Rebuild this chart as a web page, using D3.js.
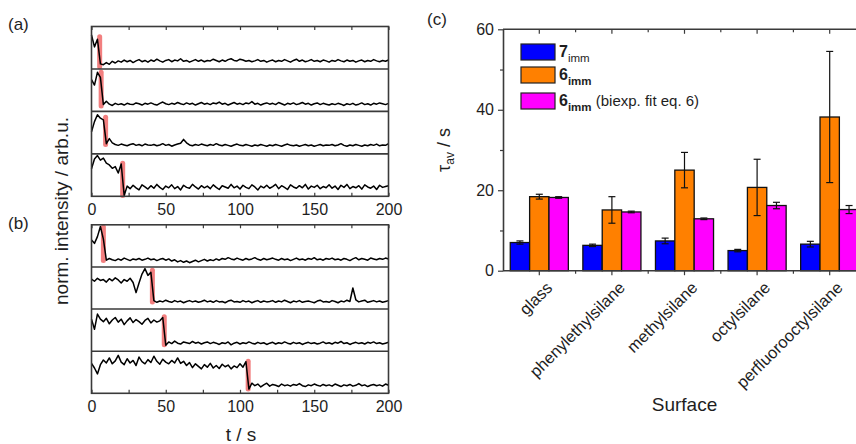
<!DOCTYPE html>
<html>
<head>
<meta charset="utf-8">
<script src="https://cdn.jsdelivr.net/npm/d3@7"></script>
<style>
body { margin: 0; background: #fff; }
svg { display: block; }
text { font-family: "Liberation Sans", Arial, sans-serif; fill: #1e1e1e; }
</style>
</head>
<body>
<svg width="856" height="444"></svg>
<script>
// time axis of the single-molecule traces (s)
var sampleTimes = [0,2,4,6,8,10,12,14,16,18,20,22,24,26,28,30,32,34,36,38,40,42,44,46,48,50,52,54,56,58,60,62,64,66,68,70,72,74,76,78,80,82,84,86,88,90,92,94,96,98,100,102,104,106,108,110,112,114,116,118,120,122,124,126,128,130,132,134,136,138,140,142,144,146,148,150,152,154,156,158,160,162,164,166,168,170,172,174,176,178,180,182,184,186,188,190,192,194,196,198,200];

// (a) normalised intensity traces (0 = strip bottom, 1 = strip top)
var traceA1 = [0.80,0.52,0.70,0.12,
  0.10,0.15,0.11,0.18,0.14,0.19,0.16,0.21,0.17,0.20,0.15,0.19,0.22,0.17,0.20,0.16,
  0.21,0.18,0.23,0.19,0.16,0.20,0.22,0.17,0.21,0.19,0.24,0.18,0.20,0.16,0.19,0.22,0.18,0.21,0.17,0.20,
  0.19,0.23,0.20,0.17,0.21,0.18,0.22,0.24,0.20,0.19,0.23,0.21,0.18,0.20,0.17,0.19,0.22,0.18,0.20,0.16,
  0.19,0.21,0.17,0.20,0.18,0.22,0.19,0.16,0.20,0.23,0.18,0.21,0.17,0.19,0.22,0.18,0.20,0.17,0.21,0.19,
  0.16,0.20,0.18,0.22,0.19,0.17,0.21,0.18,0.20,0.16,0.19,0.21,0.17,0.20,0.18,0.22,0.19,0.17,0.20,0.18,0.21];
var traceA2 = [0.75,0.62,0.92,0.80,
  0.16,0.24,0.17,0.14,0.19,0.16,0.18,0.15,0.19,0.17,0.16,0.20,0.18,0.15,0.19,0.17,
  0.20,0.17,0.15,0.19,0.22,0.18,0.16,0.19,0.17,0.21,0.18,0.16,0.20,0.17,0.19,0.15,0.18,0.21,0.17,0.19,
  0.16,0.20,0.18,0.22,0.17,0.19,0.15,0.18,0.21,0.17,0.19,0.16,0.20,0.18,0.23,0.17,0.19,0.15,0.18,0.20,
  0.17,0.19,0.16,0.21,0.18,0.15,0.19,0.17,0.20,0.16,0.18,0.21,0.17,0.19,0.15,0.18,0.20,0.16,0.19,0.17,
  0.15,0.18,0.16,0.19,0.17,0.14,0.18,0.16,0.19,0.15,0.17,0.20,0.16,0.18,0.15,0.19,0.17,0.20,0.18,0.16,0.19];
var traceA3 = [0.52,0.76,0.92,0.84,0.80,
  0.24,0.36,0.26,0.22,0.20,0.23,0.21,0.19,0.22,0.24,0.20,0.22,0.19,0.23,0.21,
  0.20,0.22,0.19,0.21,0.24,0.20,0.22,0.18,0.21,0.23,0.25,0.34,0.26,0.21,0.19,0.22,0.20,0.23,0.21,0.19,
  0.22,0.20,0.24,0.21,0.19,0.22,0.20,0.18,0.21,0.23,0.20,0.19,0.22,0.20,0.18,0.21,0.19,0.22,0.20,0.18,
  0.21,0.19,0.22,0.20,0.18,0.21,0.23,0.20,0.19,0.21,0.18,0.20,0.22,0.19,0.21,0.18,0.20,0.22,0.19,0.21,
  0.20,0.22,0.19,0.21,0.24,0.20,0.18,0.21,0.19,0.22,0.20,0.18,0.21,0.19,0.22,0.20,0.23,0.19,0.21,0.20,0.24];
var traceA4 = [0.65,0.88,0.96,0.85,0.90,0.78,0.74,0.66,0.70,0.55,0.76,
  0.02,0.24,0.18,0.26,0.20,0.15,0.27,0.22,0.17,
  0.25,0.19,0.28,0.21,0.16,0.24,0.20,0.27,0.18,0.23,0.15,0.26,0.21,0.19,0.28,0.22,0.17,0.25,0.20,0.24,
  0.18,0.27,0.21,0.16,0.25,0.22,0.19,0.28,0.20,0.24,0.17,0.26,0.21,0.18,0.27,0.22,0.15,0.24,0.20,0.26,
  0.19,0.23,0.28,0.18,0.25,0.21,0.16,0.27,0.22,0.19,0.25,0.20,0.28,0.17,0.24,0.21,0.26,0.18,0.23,0.20,
  0.27,0.19,0.24,0.16,0.26,0.21,0.28,0.18,0.23,0.20,0.25,0.17,0.27,0.22,0.19,0.24,0.16,0.26,0.21,0.23,0.25];

// (b) traces
var traceB1 = [0.64,0.56,0.72,0.96,0.66,
  0.16,0.20,0.17,0.15,0.19,0.16,0.21,0.18,0.15,0.19,0.17,0.20,0.16,0.18,0.21,
  0.17,0.19,0.15,0.18,0.20,0.16,0.19,0.14,0.17,0.12,0.15,0.11,0.14,0.10,0.13,0.16,0.12,0.15,0.18,0.14,
  0.17,0.15,0.19,0.16,0.20,0.18,0.22,0.19,0.17,0.21,0.18,0.16,0.20,0.17,0.19,0.22,0.18,0.16,0.20,0.17,
  0.19,0.21,0.18,0.16,0.20,0.17,0.19,0.15,0.18,0.21,0.17,0.19,0.16,0.20,0.18,0.22,0.17,0.19,0.16,0.20,
  0.18,0.21,0.17,0.19,0.16,0.20,0.18,0.15,0.19,0.22,0.17,0.20,0.18,0.16,0.21,0.19,0.17,0.20,0.18,0.21,0.19];
var traceB2 = [0.71,0.66,0.73,0.68,0.70,0.64,0.72,0.67,0.74,0.69,0.62,0.70,0.66,0.73,0.63,0.39,0.62,0.83,0.96,0.80,0.87,
  0.20,0.16,0.19,0.17,0.21,0.18,0.16,0.20,0.17,0.19,0.15,0.18,0.20,0.17,0.19,0.16,0.18,0.21,0.17,
  0.19,0.16,0.20,0.17,0.18,0.15,0.19,0.21,0.17,0.18,0.16,0.20,0.17,0.19,0.15,0.18,0.20,0.16,0.19,0.17,
  0.18,0.20,0.16,0.19,0.17,0.21,0.18,0.15,0.19,0.17,0.20,0.16,0.18,0.19,0.17,0.15,0.19,0.21,0.17,0.18,
  0.16,0.20,0.18,0.15,0.19,0.17,0.21,0.18,0.50,0.22,0.17,0.19,0.21,0.16,0.18,0.20,0.17,0.19,0.16,0.18,0.20];
var traceB3 = [0.76,0.52,0.88,0.76,0.70,0.78,0.65,0.74,0.80,0.69,0.76,0.63,0.72,0.79,0.68,0.75,0.70,0.64,0.73,0.78,0.67,0.74,0.69,0.72,0.80,
  0.14,0.22,0.18,0.24,0.19,0.17,0.22,0.20,0.18,0.23,0.19,0.21,0.17,0.20,0.22,
  0.18,0.21,0.19,0.16,0.20,0.18,0.22,0.15,0.19,0.21,0.17,0.20,0.18,0.22,0.19,0.17,0.21,0.18,0.20,0.16,
  0.19,0.21,0.17,0.20,0.18,0.22,0.19,0.17,0.21,0.18,0.20,0.16,0.19,0.21,0.18,0.20,0.17,0.19,0.22,0.18,
  0.20,0.17,0.21,0.19,0.23,0.18,0.20,0.16,0.19,0.21,0.18,0.20,0.17,0.21,0.19,0.22,0.18,0.20,0.17,0.19,0.21];
var traceB4 = [0.71,0.60,0.46,0.68,0.79,0.72,0.84,0.70,0.77,0.90,
  0.74,0.68,0.82,0.72,0.78,0.66,0.86,0.75,0.70,0.80,
  0.73,0.88,0.76,0.69,0.81,0.74,0.70,0.78,0.72,0.84,
  0.71,0.76,0.66,0.73,0.61,0.70,0.64,0.58,0.68,0.62,
  0.71,0.60,0.66,0.59,0.69,0.63,0.67,0.58,0.65,0.61,
  0.70,0.62,0.75,
  0.10,0.24,0.18,0.22,0.15,0.20,0.24,
  0.17,0.21,0.19,0.16,0.22,0.18,0.20,0.17,0.21,0.19,0.23,0.18,0.16,0.20,0.18,0.22,0.19,0.17,0.21,0.18,
  0.20,0.17,0.22,0.19,0.16,0.20,0.18,0.21,0.17,0.19,0.23,0.18,0.20,0.16,0.19,0.21,0.18,0.20,0.17,0.22,0.19];

// red markers of the bleaching step: time, upper and lower level
var stepTimeA = [5.5, 6.5, 9.5, 21];
var stepTopA = [0.76, 0.92, 0.86, 0.78];
var stepBottomA = [0.05, 0.13, 0.22, 0.02];
var stepTimeB = [8, 41, 49, 105.5];
var stepTopB = [0.95, 0.92, 0.82, 0.76];
var stepBottomB = [0.15, 0.17, 0.15, 0.10];

var timeTicks = [0, 25, 50, 75, 100, 125, 150, 175, 200];

// (c) average dwell times
var categories = ["glass", "phenylethylsilane", "methylsilane", "octylsilane", "perfluorooctylsilane"];
var seriesNames = ["7imm", "6imm", "6imm biexp"];
var tau7 = [7.0, 6.3, 7.4, 5.0, 6.6];
var tau7Err = [0.4, 0.3, 0.7, 0.3, 0.7];
var tau6 = [18.4, 15.1, 25.0, 20.7, 38.2];
var tau6Err = [0.6, 3.3, 4.4, 7.0, 16.3];
var tau6Biexp = [18.2, 14.6, 12.9, 16.2, 15.2];
var tau6BiexpErr = [0.2, 0.2, 0.2, 0.8, 1.0];
var tauTicks = [0, 10, 20, 30, 40, 50, 60];

var colors = ["#0000ff", "#ff8000", "#ff00ff"];

var svg = d3.select("svg");
var frameColor = "#3a3a3a";

// ---------- panels (a) and (b) ----------
var xt = d3.scaleLinear().domain([0, 200]).range([91.5, 388.5]);

function drawTraces(top, bottom, traces, stepT, stepTop, stepBot) {
  var g = svg.append("g");
  var h = (bottom - top) / traces.length;

  traces.forEach(function(tr, i) {
    var y = d3.scaleLinear().domain([0, 1]).range([top + (i + 1) * h, top + i * h]);

    g.append("line")
      .attr("x1", xt(stepT[i])).attr("x2", xt(stepT[i]))
      .attr("y1", y(stepTop[i])).attr("y2", y(stepBot[i]))
      .attr("stroke", "#f06868")
      .attr("stroke-opacity", 0.85)
      .attr("stroke-width", 5)
      .attr("stroke-linecap", "round");

    g.append("path")
      .datum(tr)
      .attr("fill", "none")
      .attr("stroke", "#000")
      .attr("stroke-width", 1.5)
      .attr("stroke-linejoin", "round")
      .attr("d", d3.line()
        .x(function(d, j) { return xt(sampleTimes[j]); })
        .y(function(d) { return y(d); }));

    if (i > 0) {
      g.append("line")
        .attr("x1", xt(0)).attr("x2", xt(200))
        .attr("y1", top + i * h).attr("y2", top + i * h)
        .attr("stroke", frameColor)
        .attr("stroke-width", 1.6);
    }
  });

  // ticks pointing inwards, top and bottom
  g.append("g")
    .attr("transform", "translate(0," + top + ")")
    .call(d3.axisTop(xt).tickValues(timeTicks).tickSize(-3.5).tickFormat(""))
    .call(function(a) { a.select(".domain").remove(); a.selectAll("line").attr("stroke", frameColor).attr("stroke-width", 1.2); });

  g.append("g")
    .attr("transform", "translate(0," + bottom + ")")
    .call(d3.axisBottom(xt).tickValues(timeTicks).tickSize(-3.5).tickSizeOuter(0).tickPadding(7.5)
      .tickFormat(function(d) { return d % 50 ? "" : d; }))
    .call(function(a) {
      a.select(".domain").remove();
      a.selectAll("line").attr("stroke", frameColor).attr("stroke-width", 1.2);
      a.selectAll("text").attr("font-size", 16).attr("font-family", null).attr("fill", "#1e1e1e");
    });

  g.append("rect")
    .attr("x", xt(0)).attr("y", top)
    .attr("width", xt(200) - xt(0)).attr("height", bottom - top)
    .attr("fill", "none")
    .attr("stroke", frameColor)
    .attr("stroke-width", 1.6);
}

drawTraces(26.5, 196.3, [traceA1, traceA2, traceA3, traceA4], stepTimeA, stepTopA, stepBottomA);
drawTraces(224.8, 393.3, [traceB1, traceB2, traceB3, traceB4], stepTimeB, stepTopB, stepBottomB);

svg.append("text").attr("x", 8).attr("y", 30).attr("font-size", 17).text("(a)");
svg.append("text").attr("x", 8).attr("y", 229).attr("font-size", 17).text("(b)");

svg.append("text")
  .attr("transform", "translate(68,211) rotate(-90)")
  .attr("text-anchor", "middle")
  .attr("font-size", 19)
  .text("norm. intensity / arb.u.");

svg.append("text")
  .attr("x", 241).attr("y", 441)
  .attr("text-anchor", "middle")
  .attr("font-size", 19)
  .text("t / s");

// ---------- panel (c) ----------
var x0 = d3.scaleBand().domain(categories).range([503, 866]).paddingInner(0.2).paddingOuter(0.1);
var x1 = d3.scaleBand().domain(seriesNames).range([0, x0.bandwidth()]);
var y = d3.scaleLinear().domain([0, 60]).range([270.7, 29.3]);

var rows = categories.map(function(c, i) {
  return [
    {key: seriesNames[0], value: tau7[i], err: tau7Err[i]},
    {key: seriesNames[1], value: tau6[i], err: tau6Err[i]},
    {key: seriesNames[2], value: tau6Biexp[i], err: tau6BiexpErr[i]}
  ];
});

var gc = svg.append("g");

var groups = gc.selectAll("g.grp")
  .data(rows)
  .enter().append("g")
  .attr("class", "grp")
  .attr("transform", function(d, i) { return "translate(" + x0(categories[i]) + ",0)"; });

groups.selectAll("rect")
  .data(function(d) { return d; })
  .enter().append("rect")
  .attr("x", function(d) { return x1(d.key); })
  .attr("y", function(d) { return y(d.value); })
  .attr("width", x1.bandwidth())
  .attr("height", function(d) { return y(0) - y(d.value); })
  .attr("fill", function(d, i) { return colors[i]; })
  .attr("stroke", "#111")
  .attr("stroke-width", 1.3);

// error bars
var eb = groups.selectAll("g.err")
  .data(function(d) { return d; })
  .enter().append("g")
  .attr("class", "err")
  .attr("stroke", "#111")
  .attr("stroke-width", 1.2);

eb.append("line")
  .attr("x1", function(d) { return x1(d.key) + x1.bandwidth() / 2; })
  .attr("x2", function(d) { return x1(d.key) + x1.bandwidth() / 2; })
  .attr("y1", function(d) { return y(d.value + d.err); })
  .attr("y2", function(d) { return y(d.value - d.err); });

[1, -1].forEach(function(s) {
  eb.append("line")
    .attr("x1", function(d) { return x1(d.key) + x1.bandwidth() / 2 - 3.5; })
    .attr("x2", function(d) { return x1(d.key) + x1.bandwidth() / 2 + 3.5; })
    .attr("y1", function(d) { return y(d.value + s * d.err); })
    .attr("y2", function(d) { return y(d.value + s * d.err); });
});

// left axis
gc.append("g")
  .attr("transform", "translate(503,0)")
  .call(d3.axisLeft(y).tickValues(tauTicks).tickSize(5).tickSizeOuter(0).tickPadding(4)
    .tickFormat(function(d) { return d % 20 ? "" : d; }))
  .call(function(a) {
    a.select(".domain").attr("stroke", frameColor).attr("stroke-width", 1.6);
    a.selectAll(".tick line").attr("stroke", frameColor).attr("stroke-width", 1.2)
      .attr("x2", function(d) { return d % 20 ? -3 : -5; });
    a.selectAll("text").attr("font-size", 16).attr("font-family", null).attr("fill", "#1e1e1e");
  });

// bottom axis, ticks at group centres, minor ticks between groups
gc.append("g")
  .attr("transform", "translate(0," + y(0) + ")")
  .call(d3.axisBottom(x0).tickSize(4.5).tickSizeOuter(0).tickFormat(""))
  .call(function(a) {
    a.select(".domain").attr("stroke", frameColor).attr("stroke-width", 1.6).attr("d", "M503,0H860");
    a.selectAll(".tick line").attr("stroke", frameColor).attr("stroke-width", 1.2);
  });

// top frame line with inward ticks
gc.append("g")
  .attr("transform", "translate(0," + y(60) + ")")
  .call(d3.axisTop(x0).tickSize(-4.5).tickSizeOuter(0).tickFormat(""))
  .call(function(a) {
    a.select(".domain").attr("stroke", frameColor).attr("stroke-width", 1.6).attr("d", "M503,0H860");
    a.selectAll(".tick line").attr("stroke", frameColor).attr("stroke-width", 1.2);
  });

var gap = x0.step() * x0.paddingInner() / 2;
categories.slice(1).forEach(function(c) {
  var bx = x0(c) - gap;
  gc.append("line").attr("x1", bx).attr("x2", bx).attr("y1", y(0)).attr("y2", y(0) + 3)
    .attr("stroke", frameColor).attr("stroke-width", 1.2);
  gc.append("line").attr("x1", bx).attr("x2", bx).attr("y1", y(60)).attr("y2", y(60) + 3)
    .attr("stroke", frameColor).attr("stroke-width", 1.2);
});

// rotated category labels
gc.selectAll("text.cat")
  .data(categories)
  .enter().append("text")
  .attr("class", "cat")
  .attr("text-anchor", "end")
  .attr("font-size", 16.5)
  .attr("transform", function(d) {
    return "translate(" + (x0(d) + x0.bandwidth() / 2 + 10) + "," + (y(0) + 14) + ") rotate(-45)";
  })
  .attr("dy", "0.35em")
  .text(function(d) { return d; });

svg.append("text")
  .attr("x", x0(categories[2]) + x0.bandwidth() / 2)
  .attr("y", 411)
  .attr("text-anchor", "middle")
  .attr("font-size", 19)
  .text("Surface");

// y title: tau_av / s
var yt = svg.append("text")
  .attr("transform", "translate(450,150) rotate(-90)")
  .attr("text-anchor", "middle")
  .attr("font-size", 18);
yt.append("tspan").text("\u03c4");
yt.append("tspan").attr("font-size", 12).attr("dy", 4).text("av");
yt.append("tspan").attr("dy", -4).text(" / s");

svg.append("text").attr("x", 427).attr("y", 25).attr("font-size", 17).text("(c)");

// legend
var legendTop = [44, 67, 93];
var legend = svg.append("g");
seriesNames.forEach(function(s, i) {
  legend.append("rect")
    .attr("x", 521).attr("y", legendTop[i])
    .attr("width", 34).attr("height", 16)
    .attr("fill", colors[i])
    .attr("stroke", "#222")
    .attr("stroke-width", 1.2);
  var t = legend.append("text")
    .attr("x", 559).attr("y", legendTop[i] + 13)
    .attr("font-size", 16);
  t.append("tspan").attr("font-weight", "bold").text(i === 0 ? "7" : "6");
  t.append("tspan").attr("font-size", 11.5).attr("dy", 5)
    .attr("font-weight", i === 0 ? "normal" : "bold").text("imm");
  if (i === 2) {
    t.append("tspan").attr("dy", -5).attr("font-size", 15).text(" (biexp. fit eq. 6)");
  }
});
</script>
</body>
</html>
